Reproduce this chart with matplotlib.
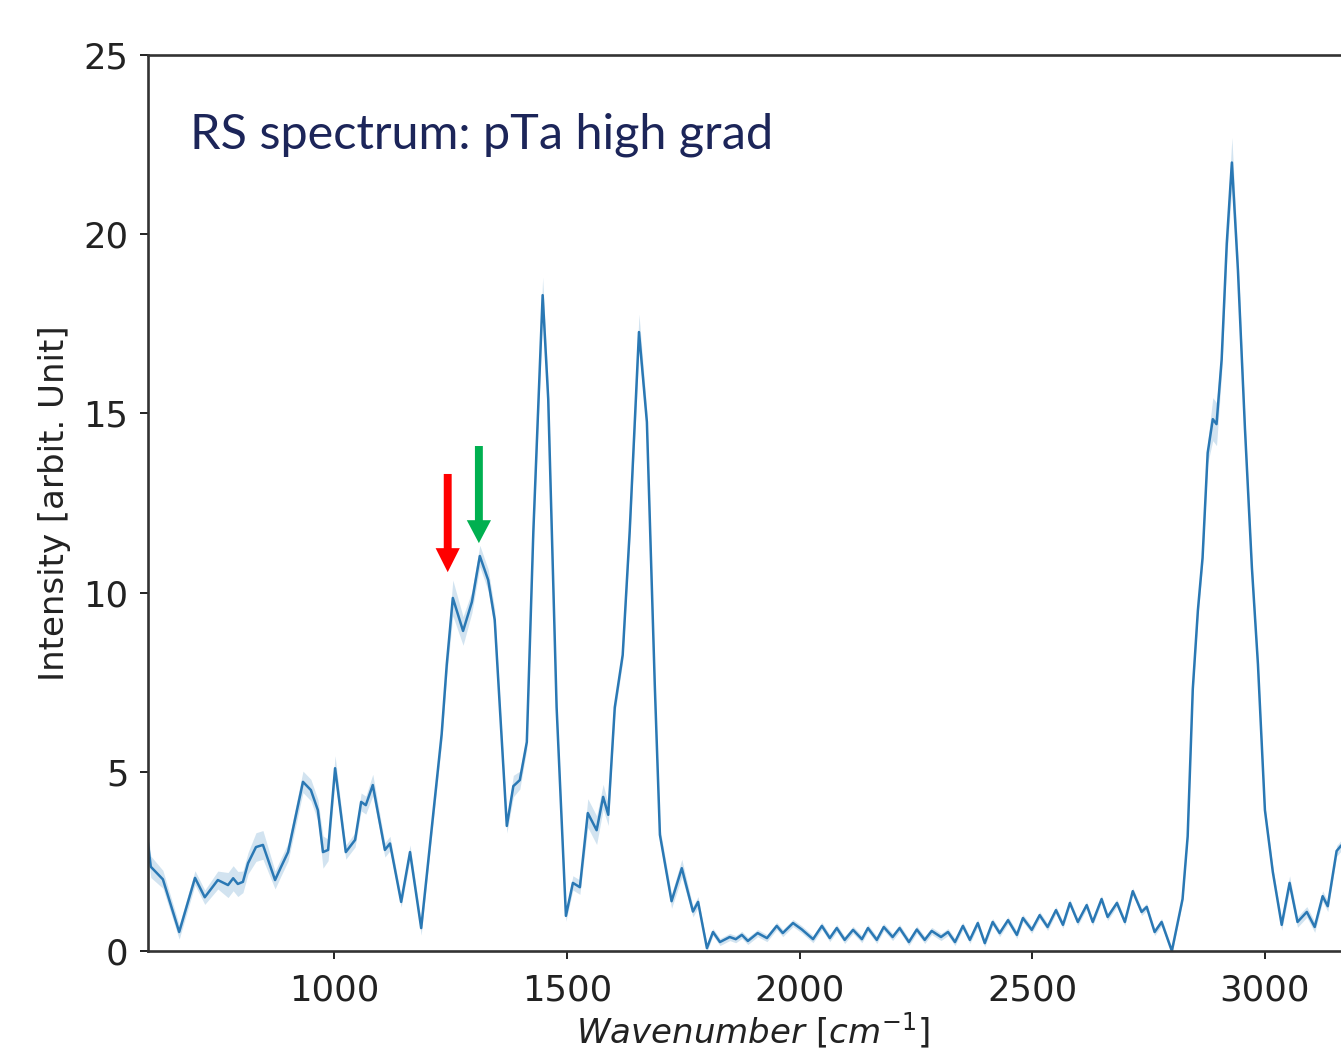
import matplotlib.pyplot as plt
import numpy as np

# spectrum
wavenumber = [
    600, 606, 632, 667, 701, 722, 750, 772, 783, 793,
    804, 815, 832, 847, 873, 886, 901, 933, 950, 965,
    976, 987, 1002, 1025, 1045, 1058, 1068, 1083, 1109, 1120,
    1144, 1163, 1187, 1212, 1231, 1242, 1255, 1277, 1296, 1313,
    1331, 1345, 1356, 1371, 1385, 1399, 1414, 1428, 1448, 1460,
    1478, 1498, 1513, 1528, 1545, 1564, 1578, 1589, 1603, 1620,
    1635, 1655, 1672, 1689, 1700, 1725, 1747, 1771, 1782, 1801,
    1814, 1829, 1850, 1863, 1876, 1889, 1910, 1930, 1951, 1964,
    1986, 2005, 2029, 2048, 2065, 2080, 2097, 2115, 2134, 2147,
    2166, 2181, 2200, 2215, 2235, 2252, 2269, 2284, 2304, 2319,
    2334, 2351, 2366, 2383, 2398, 2415, 2430, 2448, 2467, 2480,
    2499, 2516, 2533, 2551, 2566, 2581, 2598, 2617, 2630, 2649,
    2662, 2682, 2699, 2716, 2735, 2746, 2763, 2778, 2800, 2823,
    2834, 2845, 2856, 2866, 2877, 2888, 2896, 2907, 2918, 2929,
    2942, 2957, 2972, 2985, 3000, 3017, 3036, 3053, 3070, 3090,
    3107, 3124, 3135, 3154, 3163,
]
intensity = [
    3.0, 2.35, 2.0, 0.53, 2.04, 1.5, 1.98, 1.84, 2.03, 1.87,
    1.93, 2.45, 2.9, 2.96, 1.98, 2.35, 2.76, 4.72, 4.49, 3.93,
    2.76, 2.82, 5.1, 2.76, 3.1, 4.16, 4.07, 4.63, 2.82, 3.0,
    1.37, 2.76, 0.64, 3.7, 6.05, 8.0, 9.85, 8.93, 9.74, 11.02,
    10.35, 9.24, 6.8, 3.49, 4.6, 4.77, 5.83, 11.7, 18.3, 15.4,
    6.8, 0.98, 1.9, 1.78, 3.85, 3.37, 4.3, 3.8, 6.8, 8.26,
    11.7, 17.27, 14.76, 7.4, 3.24, 1.39, 2.31, 1.1, 1.37, 0.08,
    0.53, 0.25, 0.39, 0.33, 0.45, 0.28, 0.5, 0.36, 0.7, 0.5,
    0.78, 0.6, 0.33, 0.7, 0.36, 0.64, 0.31, 0.59, 0.33, 0.64,
    0.31, 0.67, 0.39, 0.64, 0.25, 0.6, 0.31, 0.56, 0.39, 0.53,
    0.25, 0.7, 0.31, 0.78, 0.22, 0.81, 0.5, 0.86, 0.45, 0.92,
    0.59, 1.0, 0.67, 1.14, 0.73, 1.34, 0.81, 1.28, 0.81, 1.45,
    0.95, 1.34, 0.81, 1.67, 1.09, 1.23, 0.53, 0.81, 0.0, 1.45,
    3.2, 7.31, 9.51, 10.97, 13.9, 14.84, 14.7, 16.5, 19.74, 22.0,
    19.0, 14.6, 10.7, 8.0, 3.93, 2.2, 0.73, 1.9, 0.81, 1.09,
    0.67, 1.53, 1.25, 2.79, 2.93,
]
# half width of the shaded band
spread = [
    .3, .3, .25, .2, .2, .2, .25, .35, .35, .35,
    .3, .3, .4, .4, .25, .25, .25, .3, .3, .3,
    .45, .3, .35, .2, .2, .25, .25, .3, .2, .2,
    .15, .2, .2, .2, .25, .3, .5, .4, .3, .3,
    .3, .3, .2, .2, .3, .25, .2, .3, .5, .4,
    .2, .15, .2, .2, .4, .4, .35, .3, .2, .2,
    .3, .5, .3, .2, .2, .2, .25, .15, .15, .1,
    .1, .1, .1, .1, .1, .1, .1, .1, .1, .1,
    .1, .1, .1, .1, .1, .1, .1, .1, .1, .1,
    .1, .1, .1, .1, .1, .1, .1, .1, .1, .1,
    .1, .1, .1, .1, .1, .1, .1, .1, .1, .1,
    .1, .1, .1, .1, .1, .1, .1, .1, .1, .1,
    .1, .1, .1, .1, .1, .1, .1, .1, .1, .1,
    .1, .2, .2, .2, .3, .6, .6, .4, .4, .7,
    .4, .3, .2, .2, .15, .15, .15, .2, .15, .15,
    .15, .15, .15, .15, .15,
]

xTicks = [1000, 1500, 2000, 2500, 3000]
yTicks = [0, 5, 10, 15, 20, 25]
redArrowX, greenArrowX = 1244, 1311

x = np.array(wavenumber)
y = np.array(intensity)
s = np.array(spread)

fig = plt.figure(figsize=(13.41, 10.53), dpi=100)
# axes run past the right edge like the cropped screenshot
ax = fig.add_axes([148 / 1341, 102 / 1053, 1210 / 1341, 896 / 1053])

ax.fill_between(x, y - s, y + s, color="#1f77b4", alpha=0.2, lw=0)
ax.plot(x, y, color="#2a78b4", lw=1.8, solid_joinstyle="round")

ax.set_xlim(600, 3200)
ax.set_ylim(0, 25)
ax.set_xticks(xTicks)
ax.set_yticks(yTicks)
ax.tick_params(labelsize=25.5, length=6, width=1.4, colors="#222222")
ax.tick_params(axis="x", pad=10)
ax.tick_params(axis="y", pad=8)
for sp in ax.spines.values():
    sp.set_linewidth(1.9)
    sp.set_color("#333333")

ax.set_xlabel(r"$Wavenumber\ [cm^{-1}]$", fontsize=24.5, color="#222222",
              labelpad=2)
ax.set_ylabel("Intensity [arbit. Unit]", fontsize=24.5, color="#222222",
              labelpad=9)

ax.text(0.035, 0.896, "RS spectrum: pTa high grad", transform=ax.transAxes,
        fontsize=35, family="Lato", color="#1c2559", va="baseline")

# the two marker arrows
ax.arrow(redArrowX, 13.31, 0, 10.57 - 13.31, width=17, head_width=52,
         head_length=0.67, length_includes_head=True, color="#ff0000", lw=0)
ax.arrow(greenArrowX, 14.09, 0, 11.38 - 14.09, width=17, head_width=52,
         head_length=0.64, length_includes_head=True, color="#00b050", lw=0)

plt.savefig("out.png", dpi=100)
